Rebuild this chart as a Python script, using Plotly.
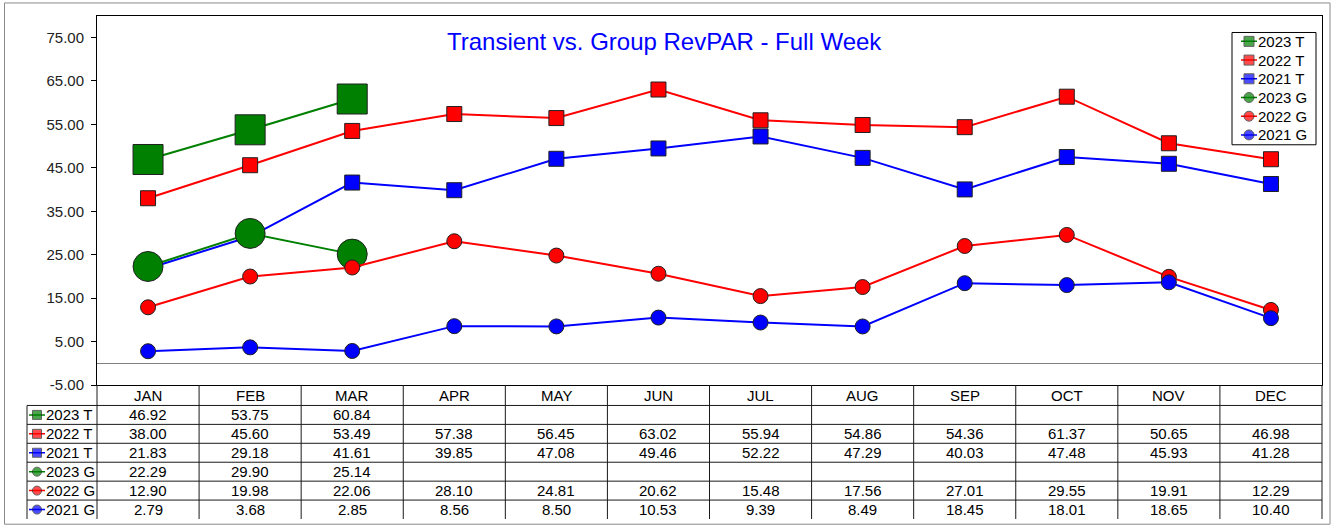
import plotly.graph_objects as go

# ---------------- data ----------------
months = ["JAN", "FEB", "MAR", "APR", "MAY", "JUN", "JUL", "AUG", "SEP", "OCT", "NOV", "DEC"]
series_names = ["2023 T", "2022 T", "2021 T", "2023 G", "2022 G", "2021 G"]
t2023 = [46.92, 53.75, 60.84, None, None, None, None, None, None, None, None, None]
t2022 = [38.00, 45.60, 53.49, 57.38, 56.45, 63.02, 55.94, 54.86, 54.36, 61.37, 50.65, 46.98]
t2021 = [21.83, 29.18, 41.61, 39.85, 47.08, 49.46, 52.22, 47.29, 40.03, 47.48, 45.93, 41.28]
g2023 = [22.29, 29.90, 25.14, None, None, None, None, None, None, None, None, None]
g2022 = [12.90, 19.98, 22.06, 28.10, 24.81, 20.62, 15.48, 17.56, 27.01, 29.55, 19.91, 12.29]
g2021 = [2.79, 3.68, 2.85, 8.56, 8.50, 10.53, 9.39, 8.49, 18.45, 18.01, 18.65, 10.40]
y_tick_vals = [-5, 5, 15, 25, 35, 45, 55, 65, 75]
title_text = "Transient vs. Group RevPAR - Full Week"

# ---------------- styling ----------------
series_values = [t2023, t2022, t2021, g2023, g2022, g2021]
colors = ["#008000", "#FF0000", "#0000FF", "#008000", "#FF0000", "#0000FF"]
symbols = ["square", "square", "square", "circle", "circle", "circle"]
sizes = [30, 15, 15, 30, 15, 15]
FONT = "Liberation Sans, Arial, sans-serif"
TXT = dict(family=FONT, size=15, color="#000")

W, H = 1333, 527
PL, PR, PT, PB = 97, 1322, 16, 391          # plot area in px
TL = 27                                     # table label column left edge
col_w = (PR - PL) / 12
HDR_H = 20.7
ROW_H = (H - PB - HDR_H) / 6
LG_L, LG_R, LG_T, LG_B = 1232, 1316, 33, 147   # legend box in px
LG_STEP = 19

def ux(px):
    """pixel x -> month axis units"""
    return -0.5 + (px - PL) / col_w

fig = go.Figure()

# main chart traces
for name, vals, c, s, sz in zip(series_names, series_values, colors, symbols, sizes):
    fig.add_trace(go.Scatter(
        x=list(range(12)), y=vals, name=name, mode="lines+markers",
        line=dict(color=c, width=2), showlegend=False,
        marker=dict(symbol=s, size=sz, color=c, line=dict(color="#202020", width=1)),
        xaxis="x", yaxis="y", connectgaps=False,
    ))

annotations = []
shapes = []
line_c = "#1a1a1a"

# ---------------- data table (x2/y2) ----------------
x2_lo_px, x2_hi_px = TL - 6, PR + 6
y2_top = H - PB + 4
table_top = H - PB
hdr_bottom = table_top - HDR_H

for i, m in enumerate(months):
    annotations.append(dict(x=i, y=hdr_bottom + HDR_H / 2, xref="x2", yref="y2", text=m,
                            showarrow=False, font=TXT))

for r, (name, vals, c, s) in enumerate(zip(series_names, series_values, colors, symbols)):
    yc = hdr_bottom - ROW_H * (r + 0.5)
    for i, v in enumerate(vals):
        if v is not None:
            annotations.append(dict(x=i, y=yc, xref="x2", yref="y2", text=f"{v:.2f}",
                                    showarrow=False, font=TXT))
    annotations.append(dict(x=ux(45), y=yc, xref="x2", yref="y2", text=name, xanchor="left",
                            xshift=-1, showarrow=False, font=TXT))
    fig.add_trace(go.Scatter(
        x=[ux(29), ux(37), ux(45)], y=[yc, yc, yc], mode="lines+markers", showlegend=False,
        hoverinfo="skip", xaxis="x2", yaxis="y2", cliponaxis=False,
        line=dict(color=c, width=1.5),
        marker=dict(symbol=s, size=[0, 9, 0], color=c, line=dict(color="#202020", width=[0, 1, 0])),
    ))

for k in range(13):
    u = -0.5 + k
    shapes.append(dict(type="line", xref="x2", yref="y2", x0=u, x1=u, y0=-2, y1=table_top,
                       line=dict(color=line_c, width=1)))
shapes.append(dict(type="line", xref="x2", yref="y2", x0=ux(TL), x1=ux(TL), y0=-2, y1=hdr_bottom,
                   line=dict(color=line_c, width=1)))
for r in range(6):
    yy = hdr_bottom - ROW_H * r
    shapes.append(dict(type="line", xref="x2", yref="y2", x0=ux(TL), x1=11.5, y0=yy, y1=yy,
                       line=dict(color=line_c, width=1)))

# ---------------- legend box (x3/y3, pixel units) ----------------
shapes.append(dict(type="rect", xref="x3", yref="y3", x0=LG_L, x1=LG_R, y0=LG_T, y1=LG_B,
                   line=dict(color="#000", width=1), fillcolor="white", layer="below"))
for r, (name, c, s) in enumerate(zip(series_names, colors, symbols)):
    yc = LG_T + 9 + LG_STEP * r
    fig.add_trace(go.Scatter(
        x=[LG_L + 9, LG_L + 17, LG_L + 25], y=[yc, yc, yc], mode="lines+markers",
        showlegend=False, hoverinfo="skip", xaxis="x3", yaxis="y3", cliponaxis=False,
        line=dict(color=c, width=1.5),
        marker=dict(symbol=s, size=[0, 10, 0], color=c, line=dict(color="#202020", width=[0, 1, 0])),
    ))
    annotations.append(dict(x=LG_L + 25, y=yc, xref="x3", yref="y3", text=name, xanchor="left",
                            xshift=-1, showarrow=False, font=TXT))

# outer frame
shapes.append(dict(type="rect", xref="paper", yref="paper", x0=4.5 / W, x1=1330 / W,
                   y0=-0.01, y1=1 - 3 / H, line=dict(color="#8a8a8a", width=1), layer="below"))

# title
annotations.append(dict(x=664.7 / W, y=1 - 42 / H, xref="paper", yref="paper", text=title_text,
                        showarrow=False, xanchor="center", yanchor="middle",
                        font=dict(family=FONT, size=24, color="#0000FF")))

fig.update_layout(
    width=W, height=H, margin=dict(l=0, r=0, t=0, b=0, pad=0),
    paper_bgcolor="white", plot_bgcolor="rgba(0,0,0,0)",
    font=TXT, showlegend=False,
    xaxis=dict(domain=[PL / W, PR / W], range=[-0.5, 11.5], showticklabels=False, ticks="",
               showgrid=False, zeroline=False, showline=True, mirror=True,
               linecolor="#000", linewidth=1, fixedrange=True, anchor="y"),
    yaxis=dict(domain=[(H - PB) / H, (H - PT) / H], range=[-5, 80], tickvals=y_tick_vals,
               ticktext=[f"{v:.2f}" for v in y_tick_vals], ticks="outside", ticklen=5,
               tickcolor="#000", showgrid=False, zeroline=True, zerolinecolor="#808080",
               zerolinewidth=1, showline=True, mirror=True, linecolor="#000", linewidth=1,
               tickfont=dict(family=FONT, size=15, color="#222"), ticklabelstandoff=4,
               fixedrange=True, anchor="x"),
    xaxis2=dict(domain=[x2_lo_px / W, x2_hi_px / W], range=[ux(x2_lo_px), ux(x2_hi_px)],
                visible=False, fixedrange=True, anchor="y2"),
    yaxis2=dict(domain=[0, y2_top / H], range=[0, y2_top], visible=False,
                fixedrange=True, anchor="x2"),
    xaxis3=dict(domain=[(LG_L - 4) / W, (LG_R + 4) / W], range=[LG_L - 4, LG_R + 4],
                visible=False, fixedrange=True, anchor="y3"),
    yaxis3=dict(domain=[1 - (LG_B + 4) / H, 1 - (LG_T - 4) / H], range=[LG_B + 4, LG_T - 4],
                visible=False, fixedrange=True, anchor="x3"),
    annotations=annotations, shapes=shapes, hovermode=False,
)

fig.write_html("out.html", config={"displayModeBar": False},
               post_script="document.body.style.margin='0';document.body.style.padding='0';")
